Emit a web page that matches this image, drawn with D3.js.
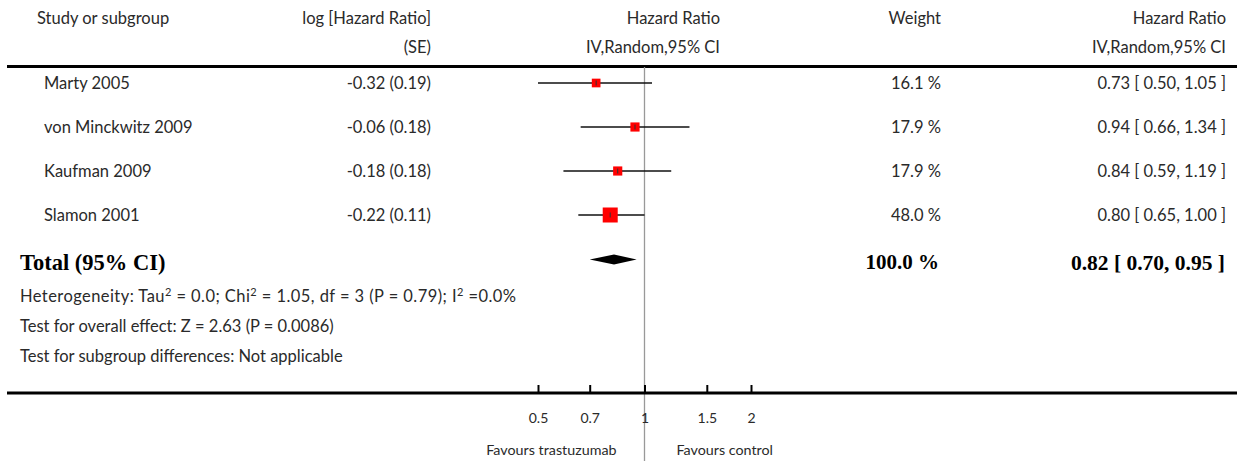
<!DOCTYPE html>
<html>
<head>
<meta charset="utf-8">
<script src="https://cdn.jsdelivr.net/npm/d3@7"></script>
<style>
  html, body { margin: 0; padding: 0; background: #fff; }
  svg { display: block; }
  text { font-family: Lato, "Open Sans", sans-serif; fill: #2a2a2a; }
  .bold { font-family: "Liberation Serif", "Times New Roman", serif; font-weight: bold; fill: #000; }
</style>
</head>
<body>
<svg id="chart" width="1239" height="461"></svg>
<script>
// ---- data ----
const studies = ["Marty 2005", "von Minckwitz 2009", "Kaufman 2009", "Slamon 2001"];
const logHR = [-0.32, -0.06, -0.18, -0.22];
const seLogHR = [0.19, 0.18, 0.18, 0.11];
const weights = [16.1, 17.9, 17.9, 48.0];
const hr = [0.73, 0.94, 0.84, 0.80];
const ciLow = [0.50, 0.66, 0.59, 0.65];
const ciHigh = [1.05, 1.34, 1.19, 1.00];
const totalLabel = "Total (95% CI)";
const totalWeight = 100.0;
const totalHR = [0.82, 0.70, 0.95];
const axisTicks = [0.5, 0.7, 1, 1.5, 2];
const favoursLeft = "Favours trastuzumab";
const favoursRight = "Favours control";
const headers1 = ["Study or subgroup", "log [Hazard Ratio]", "Hazard Ratio", "Weight", "Hazard Ratio"];
const headers2 = ["", "(SE)", "IV,Random,95% CI", "", "IV,Random,95% CI"];

// ---- layout ----
const svg = d3.select("#chart");
const x = d3.scaleLog().domain([0.5, 2]).range([538, 751]);
const y = d3.scalePoint().domain(studies).range([83, 215]);
const size = d3.scaleSqrt().domain([0, 48]).range([0, 15]);
const f2 = v => v.toFixed(2);
const f1 = v => v.toFixed(1);
const FS = "16.5px";

const colStudy = 44, colLog = 431, colHRhead = 720, colW = 941, colCI = 1226;

// headers
const hx = [37, colLog, colHRhead, colW, colCI];
const hanchor = ["start", "end", "end", "end", "end"];
svg.selectAll("text.h1").data(headers1).join("text")
  .attr("class", "h1").attr("x", (d, i) => hx[i]).attr("y", 18).attr("dy", "0.35em")
  .attr("text-anchor", (d, i) => hanchor[i]).style("font-size", FS).text(d => d);
svg.selectAll("text.h2").data(headers2).join("text")
  .attr("class", "h2").attr("x", (d, i) => hx[i]).attr("y", 47).attr("dy", "0.35em")
  .attr("text-anchor", (d, i) => hanchor[i]).style("font-size", FS).text(d => d);

// top rule
svg.append("line").attr("x1", 7).attr("x2", 1237).attr("y1", 66.5).attr("y2", 66.5)
  .attr("stroke", "#000").attr("stroke-width", 3);

// vertical line of no effect
svg.append("line").attr("x1", x(1)).attr("x2", x(1)).attr("y1", 67).attr("y2", 461)
  .attr("stroke", "#999").attr("stroke-width", 1.3);

// rows
const rows = studies.map((s, i) => ({ s, i }));
const g = svg.selectAll("g.row").data(rows).join("g").attr("class", "row");
g.append("text").attr("x", colStudy).attr("y", d => y(d.s)).attr("dy", "0.35em")
  .style("font-size", FS).text(d => d.s);
g.append("text").attr("x", colLog).attr("y", d => y(d.s)).attr("dy", "0.35em")
  .attr("text-anchor", "end").style("font-size", FS)
  .text(d => `${f2(logHR[d.i])} (${f2(seLogHR[d.i])})`);
g.append("text").attr("x", colW).attr("y", d => y(d.s)).attr("dy", "0.35em")
  .attr("text-anchor", "end").style("font-size", FS)
  .text(d => `${f1(weights[d.i])} %`);
g.append("text").attr("x", colCI).attr("y", d => y(d.s)).attr("dy", "0.35em")
  .attr("text-anchor", "end").style("font-size", FS)
  .text(d => `${f2(hr[d.i])} [ ${f2(ciLow[d.i])}, ${f2(ciHigh[d.i])} ]`);
g.append("line").attr("x1", d => x(ciLow[d.i])).attr("x2", d => x(ciHigh[d.i]))
  .attr("y1", d => y(d.s)).attr("y2", d => y(d.s)).attr("stroke", "#111").attr("stroke-width", 1.4);
g.append("rect")
  .attr("x", d => x(hr[d.i]) - size(weights[d.i]) / 2)
  .attr("y", d => y(d.s) - size(weights[d.i]) / 2)
  .attr("width", d => size(weights[d.i])).attr("height", d => size(weights[d.i]))
  .attr("fill", "#ff0000");
g.append("line").attr("x1", d => x(hr[d.i])).attr("x2", d => x(hr[d.i]))
  .attr("y1", d => y(d.s) - 2.5).attr("y2", d => y(d.s) + 2.5)
  .attr("stroke", "#333").attr("stroke-width", 1);

// total row
const yTot = 262;
svg.append("text").attr("class", "bold").attr("x", 20).attr("y", yTot).attr("dy", "0.35em")
  .style("font-size", "22.5px").text(totalLabel);
svg.append("text").attr("class", "bold").attr("x", 939).attr("y", yTot).attr("dy", "0.35em")
  .attr("text-anchor", "end").style("font-size", "21px").text(`${f1(totalWeight)} %`);
svg.append("text").attr("class", "bold").attr("x", 1225).attr("y", yTot).attr("dy", "0.35em")
  .attr("text-anchor", "end").style("font-size", "21.5px")
  .text(`${f2(totalHR[0])} [ ${f2(totalHR[1])}, ${f2(totalHR[2])} ]`);
const dy = 259.5;
svg.append("path")
  .attr("d", `M${x(totalHR[1])},${dy} L${x(totalHR[0])},${dy - 5} L${x(totalHR[2])},${dy} L${x(totalHR[0])},${dy + 5} Z`)
  .attr("fill", "#000");

// footnotes
const fn = svg.append("g").style("font-size", FS);
const het = fn.append("text").attr("x", 20).attr("y", 296).attr("dy", "0.35em")
  .attr("textLength", 496).attr("lengthAdjust", "spacing");
het.append("tspan").text("Heterogeneity: Tau");
het.append("tspan").attr("baseline-shift", "super").style("font-size", "11px").text("2");
het.append("tspan").text(" = 0.0; Chi");
het.append("tspan").attr("baseline-shift", "super").style("font-size", "11px").text("2");
het.append("tspan").text(" = 1.05, df = 3 (P = 0.79); I");
het.append("tspan").attr("baseline-shift", "super").style("font-size", "11px").text("2");
het.append("tspan").text(" =0.0%");
fn.append("text").attr("x", 20).attr("y", 326).attr("dy", "0.35em").text("Test for overall effect: Z = 2.63 (P = 0.0086)");
fn.append("text").attr("x", 20).attr("y", 356).attr("dy", "0.35em").text("Test for subgroup differences: Not applicable");

// axis
const yAxis = 393;
svg.append("line").attr("x1", 7).attr("x2", 1237).attr("y1", yAxis).attr("y2", yAxis)
  .attr("stroke", "#000").attr("stroke-width", 3);
const axis = d3.axisBottom(x).tickValues(axisTicks).tickFormat(d => String(d))
  .tickSizeInner(-8).tickSizeOuter(0).tickPadding(20);
const ag = svg.append("g").attr("transform", `translate(0,${yAxis})`).call(axis);
ag.select(".domain").remove();
ag.selectAll(".tick line").attr("stroke", "#000").attr("stroke-width", 2);
ag.selectAll(".tick text").style("font-family", "Lato, sans-serif").style("font-size", "14px").attr("fill", "#2a2a2a");

svg.append("text").attr("x", x(1) - 28).attr("y", 450).attr("dy", "0.35em")
  .attr("text-anchor", "end").style("font-size", "14.3px").text(favoursLeft);
svg.append("text").attr("x", x(1) + 32).attr("y", 450).attr("dy", "0.35em")
  .style("font-size", "14.3px").text(favoursRight);
</script>
</body>
</html>
